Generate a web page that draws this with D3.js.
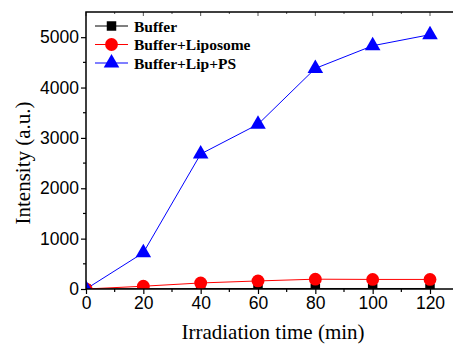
<!DOCTYPE html>
<html><head><meta charset="utf-8">
<script src="https://cdn.jsdelivr.net/npm/d3@7"></script>
<style>body{margin:0;background:#fff}svg{display:block}</style>
</head><body>
<svg id="c" width="453" height="346"></svg>
<script>
const times = [0, 20, 40, 60, 80, 100, 120];
const buffer = [0, 5, 8, 10, 10, 10, 10];
const liposome = [0, 55, 120, 160, 195, 190, 190];
const lipPS = [0, 720, 2680, 3270, 4380, 4830, 5050];
const seriesNames = ["Buffer", "Buffer+Liposome", "Buffer+Lip+PS"];
const xTicks = [0, 20, 40, 60, 80, 100, 120];
const yTicks = [0, 1000, 2000, 3000, 4000, 5000];

const svg = d3.select("#c");
const L = 86, T = 12, B = 289;
const x = d3.scaleLinear().domain([0, 120]).range([L, 430]);
const y = d3.scaleLinear().domain([0, 5500]).range([B, T]);
const R = x(130);

const series = [
  {name: seriesNames[0], vals: buffer, color: "#000", shape: "square"},
  {name: seriesNames[1], vals: liposome, color: "#ff0000", shape: "circle"},
  {name: seriesNames[2], vals: lipPS, color: "#0000ff", shape: "triangle"}
];
const sym = {square: d3.symbolSquare, circle: d3.symbolCircle, triangle: d3.symbolTriangle};
const size = {square: 90, circle: 130, triangle: 105};

// axes
const xAx = d3.axisBottom(x).tickValues(xTicks).tickSize(5).tickPadding(3).tickFormat(d3.format("d"));
const gx = svg.append("g").attr("transform", `translate(0,${B})`).call(xAx);
const yAx = d3.axisLeft(y).tickValues(yTicks).tickSize(5).tickPadding(2).tickFormat(d3.format("d"));
const gy = svg.append("g").attr("transform", `translate(${L},0)`).call(yAx);
[gx, gy].forEach(g => {
  g.select(".domain").remove();
  g.selectAll("text").attr("font-family", "Liberation Sans, Arial, sans-serif").attr("font-size", "17.5px").attr("fill", "#000");
  g.selectAll("line").attr("stroke", "#000").attr("stroke-width", 1.2);
});
// minor ticks
const xMinor = d3.range(10, 140, 20);
svg.append("g").selectAll("line").data(xMinor).join("line")
  .attr("x1", d => x(d)).attr("x2", d => x(d)).attr("y1", B).attr("y2", B + 3)
  .attr("stroke", "#000").attr("stroke-width", 1.2);
const yMinor = d3.range(500, 5500, 1000);
svg.append("g").selectAll("line").data(yMinor).join("line")
  .attr("x1", L - 3).attr("x2", L).attr("y1", d => y(d)).attr("y2", d => y(d))
  .attr("stroke", "#000").attr("stroke-width", 1.2);
// top mirror ticks
svg.append("g").selectAll("line").data(d3.range(0, 140, 10)).join("line")
  .attr("x1", d => x(d)).attr("x2", d => x(d)).attr("y1", T).attr("y2", d => T + (d % 20 === 0 ? 4 : 2))
  .attr("stroke", "#555").attr("stroke-width", 1);

// clip
svg.append("clipPath").attr("id", "clip").append("rect").attr("x", L).attr("y", T).attr("width", R - L).attr("height", B - T);
const plot = svg.append("g").attr("clip-path", "url(#clip)");
series.forEach(s => {
  const pts = times.map((t, i) => [t, s.vals[i]]);
  plot.append("path").datum(pts)
    .attr("d", d3.line().x(d => x(d[0])).y(d => y(d[1])))
    .attr("fill", "none").attr("stroke", s.color).attr("stroke-width", 1);
});
series.forEach(s => {
  const pts = times.map((t, i) => [t, s.vals[i]]);
  plot.append("g").selectAll("path").data(pts).join("path")
    .attr("transform", d => `translate(${x(d[0])},${y(d[1])})`)
    .attr("d", d3.symbol(sym[s.shape], size[s.shape])())
    .attr("fill", s.color);
});

// frame
svg.append("path").attr("d", `M${R},${T}H${L}V${B}H${R}`).attr("fill", "none").attr("stroke", "#000").attr("stroke-width", 1.5);

// legend
const lg = svg.append("g");
series.forEach((s, i) => {
  const yy = 26 + i * 18.5;
  lg.append("line").attr("x1", 95).attr("x2", 128).attr("y1", yy).attr("y2", yy).attr("stroke", s.color).attr("stroke-width", 1);
  lg.append("path").attr("transform", `translate(111.5,${yy})`).attr("d", d3.symbol(sym[s.shape], size[s.shape])()).attr("fill", s.color);
  lg.append("text").attr("x", 134).attr("y", yy + 5.5).text(s.name)
    .attr("font-family", "Liberation Serif, Times New Roman, serif").attr("font-weight", "bold").attr("font-size", "15.5px").attr("fill", "#000");
});

// titles
svg.append("text").attr("x", 273).attr("y", 339).attr("text-anchor", "middle")
  .attr("font-family", "Liberation Serif, Times New Roman, serif").attr("font-size", "21px").text("Irradiation time (min)");
svg.append("text").attr("transform", "translate(30,163) rotate(-90)").attr("text-anchor", "middle")
  .attr("font-family", "Liberation Serif, Times New Roman, serif").attr("font-size", "21px").text("Intensity (a.u.)");
</script>
</body></html>
